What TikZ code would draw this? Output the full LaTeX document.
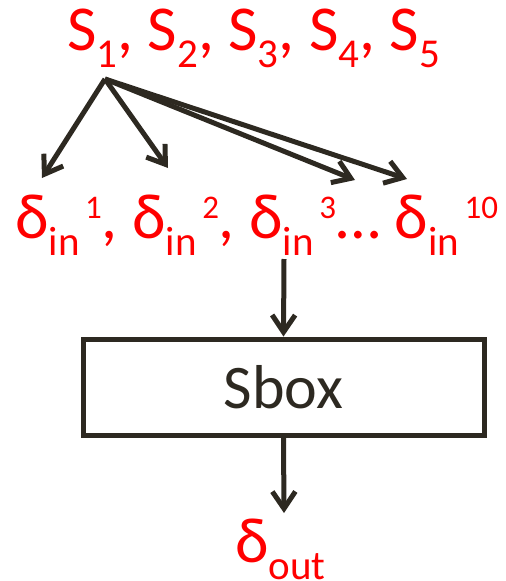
\documentclass[tikz,border=0pt]{standalone}
\usepackage{fontspec}
\setmainfont{Carlito}
\usetikzlibrary{arrows.meta}
\definecolor{inkdark}{RGB}{45,41,33}
% index below and above the letter
\newcommand\lowidx[1]{\raisebox{-17pt}{\fontsize{41}{41}\selectfont #1}}
\newcommand\highidx[1]{\raisebox{20pt}{\fontsize{33}{33}\selectfont\,#1}}
\begin{document}
\begin{tikzpicture}[x=1pt, y=-1pt, font=\fontsize{64}{70}\selectfont,
  lbl/.style={text=red, inner sep=0pt},
  arr/.style={inkdark, line width=5pt, -{Straight Barb[length=17pt,width=23pt]}}]
\useasboundingbox (0,0) rectangle (506,581);
% the five inputs and the fork under S_1
\node[lbl, anchor=base west] (inputs) at (67,50)
  {S\lowidx{1}, S\lowidx{2}, S\lowidx{3}, S\lowidx{4}, S\lowidx{5}};
\coordinate (fork) at (105,79);
% input differences
\node[lbl, anchor=base west] (deltas) at (15,238)
  {δ\lowidx{in}\highidx{1}, δ\lowidx{in}\highidx{2}, δ\lowidx{in}\highidx{3}… δ\lowidx{in}\highidx{10}};
\coordinate (d1) at (42,178);
\coordinate (d2) at (168,168);
\coordinate (d3) at (355,180);
\coordinate (d4) at (407,179);
% the box
\node[draw=inkdark, line width=5pt, minimum width=401pt, minimum height=96pt,
  inner sep=0pt, text=inkdark, font=\fontsize{62}{66}\selectfont] (sbox) at (283.5,387) {Sbox};
\coordinate (deltasbot) at (284,259);
\coordinate (outtop) at (284,513);
\node[lbl, anchor=base west] (dout) at (235,562) {δ\lowidx{out}};
% arrows
\foreach \t in {d1,d2,d3,d4}
  \draw[arr] (fork) -- (\t);
\draw[arr] (deltasbot) -- (sbox.north);
\draw[arr] (sbox.south) -- (outtop);
\end{tikzpicture}
\end{document}
